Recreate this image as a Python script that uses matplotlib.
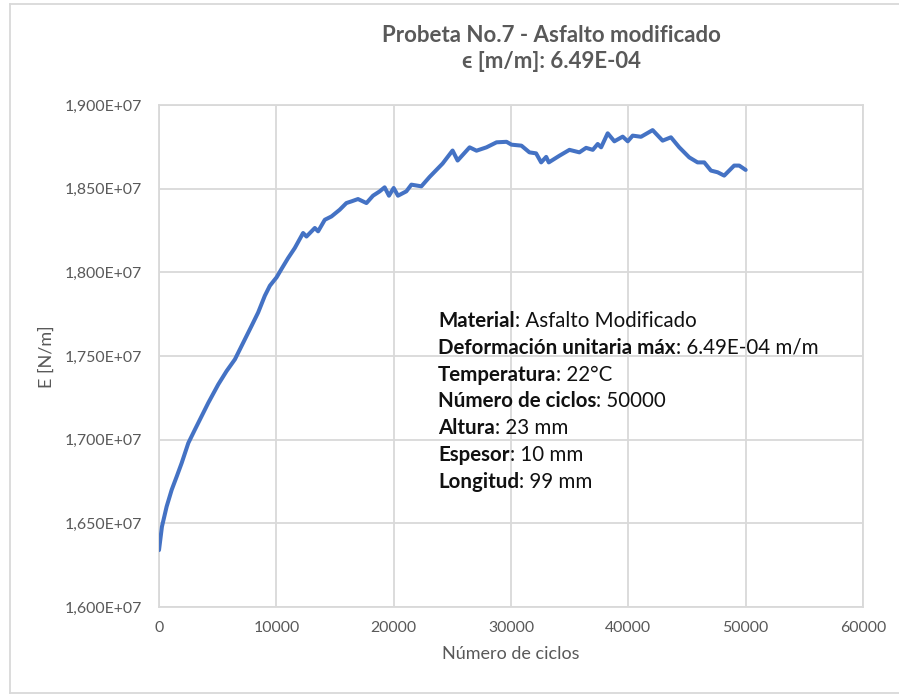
import matplotlib
matplotlib.use("Agg")
import matplotlib.pyplot as plt
from matplotlib.ticker import FixedLocator, FuncFormatter
from matplotlib.lines import Line2D

plt.rcParams['font.family'] = ['Lato', 'DejaVu Sans']

# Cycle count and stiffness modulus (in millions of N/m)
ciclos = [0, 250, 650, 1080, 1510, 1930, 2500, 3060, 3630, 4200, 5050, 5760,
          6470, 7180, 7890, 8450, 9020, 9450, 10020, 10440, 11000, 11570,
          12280, 12570, 13280, 13560, 14130, 14700, 15400, 15970, 16400,
          16960, 17680, 18240, 18810, 19230, 19600, 20000, 20370, 21080,
          21510, 22360, 23060, 24170, 25020, 25450, 26470, 27060, 27910,
          28770, 29620, 30040, 30890, 31570, 32140, 32570, 33000, 33220,
          34130, 34980, 35830, 36400, 36970, 37390, 37680, 38240, 38810,
          39520, 39950, 40370, 41080, 42070, 42920, 43630, 44340, 45190,
          45900, 46470, 47040, 47610, 48170, 49020, 49450, 50000]
modulo_mn = [16.34, 16.48, 16.60, 16.70, 16.78, 16.86, 16.98, 17.06, 17.14,
             17.22, 17.33, 17.41, 17.48, 17.58, 17.68, 17.76, 17.86, 17.92,
             17.97, 18.02, 18.085, 18.145, 18.235, 18.214, 18.265, 18.245,
             18.314, 18.334, 18.374, 18.414, 18.424, 18.438, 18.414, 18.458,
             18.484, 18.508, 18.458, 18.504, 18.458, 18.484, 18.524, 18.514,
             18.570, 18.650, 18.728, 18.668, 18.747, 18.727, 18.747, 18.777,
             18.780, 18.763, 18.757, 18.717, 18.711, 18.657, 18.690, 18.657,
             18.697, 18.732, 18.717, 18.744, 18.732, 18.767, 18.747, 18.831,
             18.783, 18.811, 18.783, 18.817, 18.810, 18.850, 18.787, 18.807,
             18.747, 18.687, 18.657, 18.657, 18.608, 18.598, 18.578, 18.638,
             18.638, 18.612]

x_ticks = [0, 10000, 20000, 30000, 40000, 50000, 60000]
y_ticks = [1.60e7, 1.65e7, 1.70e7, 1.75e7, 1.80e7, 1.85e7, 1.90e7]

titulo = "Probeta No.7 - Asfalto modificado"
subtitulo = "\u03f5 [m/m]: 6.49E-04"
etiquetas = ["Material", "Deformación unitaria máx", "Temperatura",
             "Número de ciclos", "Altura", "Espesor", "Longitud"]
valores = [": Asfalto Modificado", ": 6.49E-04 m/m", ": 22°C", ": 50000",
           ": 23 mm", ": 10 mm", ": 99 mm"]

GRID = "#d9d9d9"
TXT = "#595959"
BLUE = "#4472C4"

W, H = 899, 697
fig = plt.figure(figsize=(W / 100, H / 100), dpi=100)
ax = fig.add_axes([159 / W, 1 - 607 / H, (863 - 159) / W, (607 - 105) / H])

modulo = [v * 1e6 for v in modulo_mn]
ax.plot(ciclos, modulo, color=BLUE, lw=2.9, solid_joinstyle="round",
        solid_capstyle="round", zorder=3)

ax.set_xlim(0, 60000)
ax.set_ylim(1.60e7, 1.90e7)
ax.xaxis.set_major_locator(FixedLocator(x_ticks))
ax.yaxis.set_major_locator(FixedLocator(y_ticks))
ax.yaxis.set_major_formatter(
    FuncFormatter(lambda v, p: f"{v / 1e7:.3f}".replace(".", ",") + "E+07"))
ax.xaxis.set_major_formatter(FuncFormatter(lambda v, p: f"{int(v)}"))
ax.grid(True, color=GRID, lw=1.3, zorder=0)
ax.set_axisbelow(True)
for s in ax.spines.values():
    s.set_color(GRID)
    s.set_linewidth(1.3)
ax.tick_params(length=0, labelsize=11.4, colors=TXT)
ax.tick_params(axis="x", pad=10)
ax.tick_params(axis="y", pad=12.5)

ax.set_xlabel("Número de ciclos", fontsize=13, color=TXT, labelpad=8)
fig.text(47 / W, 1 - 357 / H, "E [N/m]", rotation=90, fontsize=13,
         color=TXT, ha="center", va="center")

fig.text(551 / W, 1 - 36 / H, titulo, fontsize=16, fontweight="bold",
         color=TXT, ha="center", va="center")
fig.text(551 / W, 1 - 61 / H, subtitulo, fontsize=16, fontweight="bold",
         color=TXT, ha="center", va="center")

# information block: bold label followed by regular value on one baseline
renderer = fig.canvas.get_renderer()
y0 = 327
for i, (lab, val) in enumerate(zip(etiquetas, valores)):
    yy = 1 - (y0 + i * 26.8) / H
    t = fig.text(438 / W, yy, lab, fontsize=14.8, fontweight="bold",
                 color="#111111", ha="left", va="baseline")
    bb = t.get_window_extent(renderer)
    fig.text(bb.x1 / W, yy, val, fontsize=14.8, color="#111111",
             ha="left", va="baseline")

# chart-area frame
frame_kw = dict(color=GRID, lw=1.3, transform=fig.transFigure)
fig.add_artist(Line2D([10 / W, 10 / W], [1 - 4 / H, 1 - 693 / H], **frame_kw))
fig.add_artist(Line2D([10 / W, 1.0], [1 - 4 / H, 1 - 4 / H], **frame_kw))
fig.add_artist(Line2D([10 / W, 1.0], [1 - 693 / H, 1 - 693 / H], **frame_kw))

fig.savefig("out.png", dpi=100)
